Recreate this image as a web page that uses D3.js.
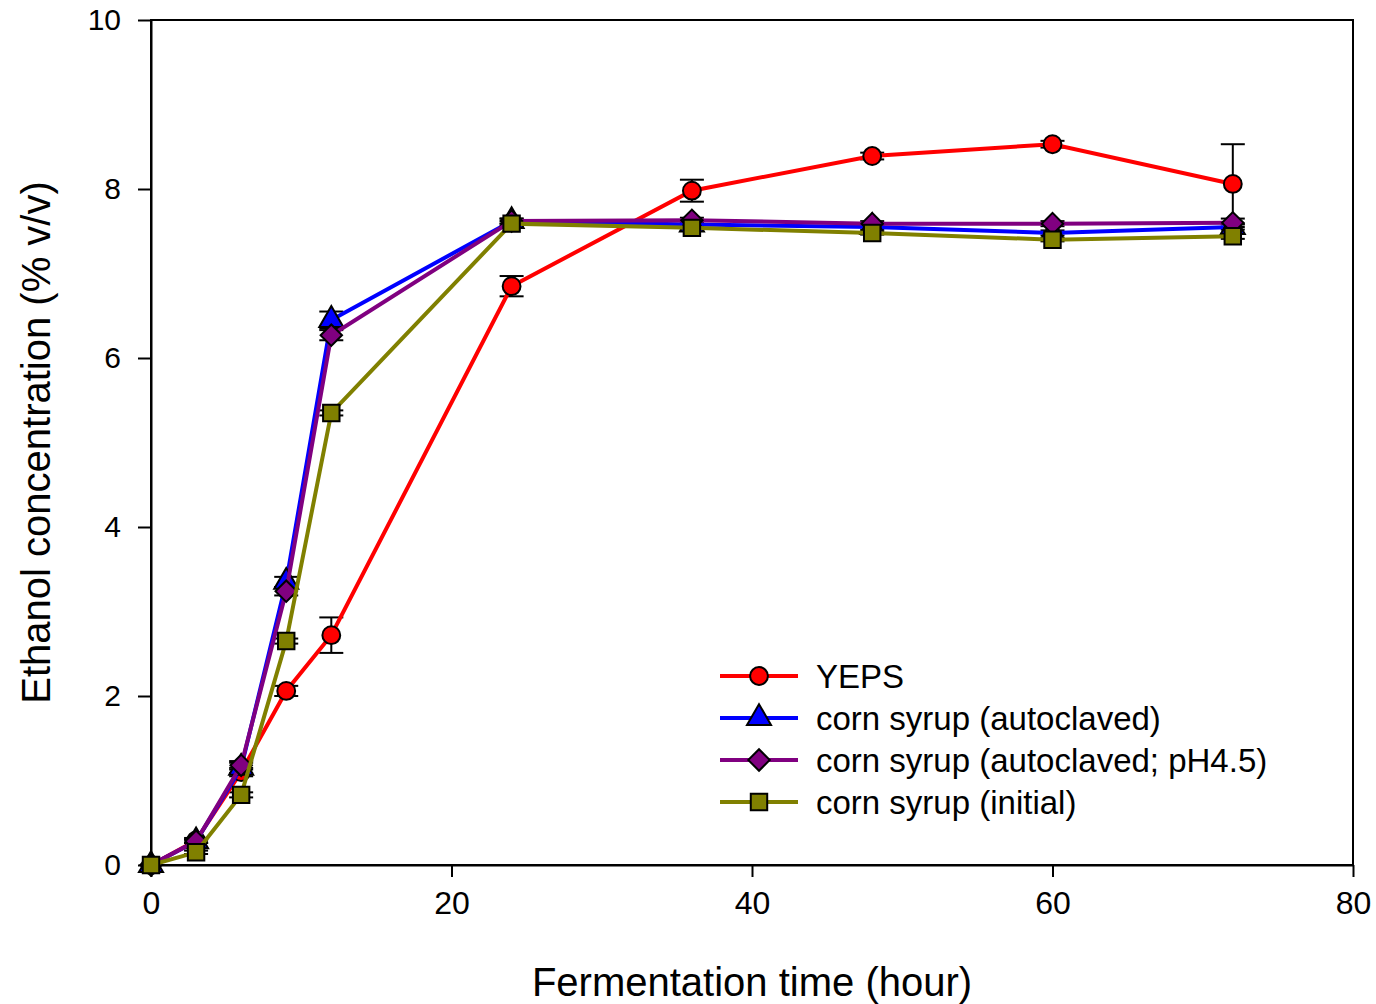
<!DOCTYPE html>
<html>
<head>
<meta charset="utf-8">
<script src="https://cdn.jsdelivr.net/npm/d3@7"></script>
<style>
body { margin: 0; background: #fff; }
svg text { font-family: "Liberation Sans", Arial, sans-serif; fill: #000; }
</style>
</head>
<body>
<svg id="chart"></svg>
<script>
// data
var hours = [0, 3, 6, 9, 12, 24, 36, 48, 60, 72];

var yeps = [0, 0.29, 1.1, 2.06, 2.72, 6.85, 7.98, 8.39, 8.53, 8.06];
var yepsErr = [0, 0.03, 0.05, 0.06, 0.21, 0.12, 0.13, 0.04, 0.04, 0.47];

var cornAuto = [0, 0.28, 1.15, 3.35, 6.45, 7.62, 7.58, 7.55, 7.48, 7.55];
var cornAutoErr = [0, 0.02, 0.06, 0.06, 0.1, 0.03, 0.03, 0.03, 0.03, 0.03];

var cornPh = [0, 0.28, 1.18, 3.24, 6.27, 7.62, 7.63, 7.59, 7.59, 7.6];
var cornPhErr = [0, 0.02, 0.05, 0.05, 0.06, 0.03, 0.03, 0.03, 0.03, 0.05];

var cornInit = [0, 0.15, 0.83, 2.65, 5.35, 7.59, 7.54, 7.48, 7.4, 7.44];
var cornInitErr = [0, 0.02, 0.03, 0.03, 0.03, 0.03, 0.02, 0.02, 0.02, 0.03];

var seriesNames = ["YEPS", "corn syrup (autoclaved)", "corn syrup (autoclaved; pH4.5)", "corn syrup (initial)"];
var xTicks = [0, 20, 40, 60, 80];
var yTicks = [0, 2, 4, 6, 8, 10];

var margin = { top: 20, right: 23, bottom: 139, left: 151 },
    width = 1376 - margin.left - margin.right,
    height = 1004 - margin.top - margin.bottom;

var xScale = d3.scaleLinear().domain([0, 80]).range([0, width]);
var yScale = d3.scaleLinear().domain([0, 10]).range([height, 0]);

var svg = d3.select("#chart").attr("width", 1376).attr("height", 1004);
var g = svg.append("g").attr("transform", "translate(" + margin.left + "," + margin.top + ")");

// frame
g.append("rect").attr("width", width).attr("height", height)
  .attr("fill", "none").attr("stroke", "#000").attr("stroke-width", 2);

// axes
var xAxis = d3.axisBottom(xScale).tickValues(xTicks).tickSize(12).tickSizeOuter(0).tickPadding(14);
var yAxis = d3.axisLeft(yScale).tickValues(yTicks).tickSize(13).tickSizeOuter(0).tickPadding(17);
var gx = g.append("g").attr("transform", "translate(0," + height + ")").call(xAxis);
var gy = g.append("g").call(yAxis);
[gx, gy].forEach(function(a){
  a.select(".domain").attr("stroke-width", 2);
  a.selectAll(".tick line").attr("stroke-width", 2);
});
gx.selectAll(".tick text").style("font-size", "32px");
gy.selectAll(".tick text").style("font-size", "30px");

g.append("text").attr("x", width / 2).attr("y", height + 131)
  .attr("text-anchor", "middle").style("font-size", "40px").text("Fermentation time (hour)");
g.append("text").attr("transform", "translate(-101," + (height / 2) + ") rotate(-90)")
  .attr("text-anchor", "middle").style("font-size", "40px").text("Ethanol concentration (% v/v)");

var series = [
  { name: seriesNames[0], values: yeps, err: yepsErr, color: "#ff0000", shape: d3.symbolCircle, size: 250, rot: 0 },
  { name: seriesNames[1], values: cornAuto, err: cornAutoErr, color: "#0000ff", shape: d3.symbolTriangle, size: 250, rot: 0 },
  { name: seriesNames[2], values: cornPh, err: cornPhErr, color: "#800080", shape: d3.symbolSquare, size: 230, rot: 45 },
  { name: seriesNames[3], values: cornInit, err: cornInitErr, color: "#808000", shape: d3.symbolSquare, size: 270, rot: 0 }
];

var line = d3.line().x(function(d){ return xScale(d.x); }).y(function(d){ return yScale(d.y); });

// error bars
series.forEach(function(s){
  var pts = hours.map(function(h, i){ return { x: h, y: s.values[i], e: s.err[i] }; });
  var eb = g.append("g");
  pts.forEach(function(p){
    if (!p.e) return;
    var cx = xScale(p.x);
    eb.append("line").attr("x1", cx).attr("x2", cx).attr("y1", yScale(p.y - p.e)).attr("y2", yScale(p.y + p.e))
      .attr("stroke", "#000").attr("stroke-width", 2);
    [p.y - p.e, p.y + p.e].forEach(function(v){
      eb.append("line").attr("x1", cx - 12).attr("x2", cx + 12).attr("y1", yScale(v)).attr("y2", yScale(v))
        .attr("stroke", "#000").attr("stroke-width", 2);
    });
  });
});

// lines and markers
series.forEach(function(s){
  var pts = hours.map(function(h, i){ return { x: h, y: s.values[i] }; });
  g.append("path").attr("d", line(pts)).attr("fill", "none")
    .attr("stroke", s.color).attr("stroke-width", 4);
  g.selectAll(null).data(pts).enter().append("path")
    .attr("d", d3.symbol().type(s.shape).size(s.size))
    .attr("transform", function(d){ return "translate(" + xScale(d.x) + "," + yScale(d.y) + ") rotate(" + s.rot + ")"; })
    .attr("fill", s.color).attr("stroke", "#000").attr("stroke-width", 2);
});

// legend
var lg = g.append("g").attr("transform", "translate(" + (720 - margin.left) + "," + (676 - margin.top) + ")");
series.forEach(function(s, i){
  var row = lg.append("g").attr("transform", "translate(0," + (i * 42) + ")");
  row.append("line").attr("x1", 0).attr("x2", 78).attr("stroke", s.color).attr("stroke-width", 4);
  row.append("path").attr("d", d3.symbol().type(s.shape).size(s.size))
    .attr("transform", "translate(39,0) rotate(" + s.rot + ")").attr("fill", s.color).attr("stroke", "#000").attr("stroke-width", 2);
  row.append("text").attr("x", 96).attr("y", 12).style("font-size", "33px").text(s.name);
});
</script>
</body>
</html>
